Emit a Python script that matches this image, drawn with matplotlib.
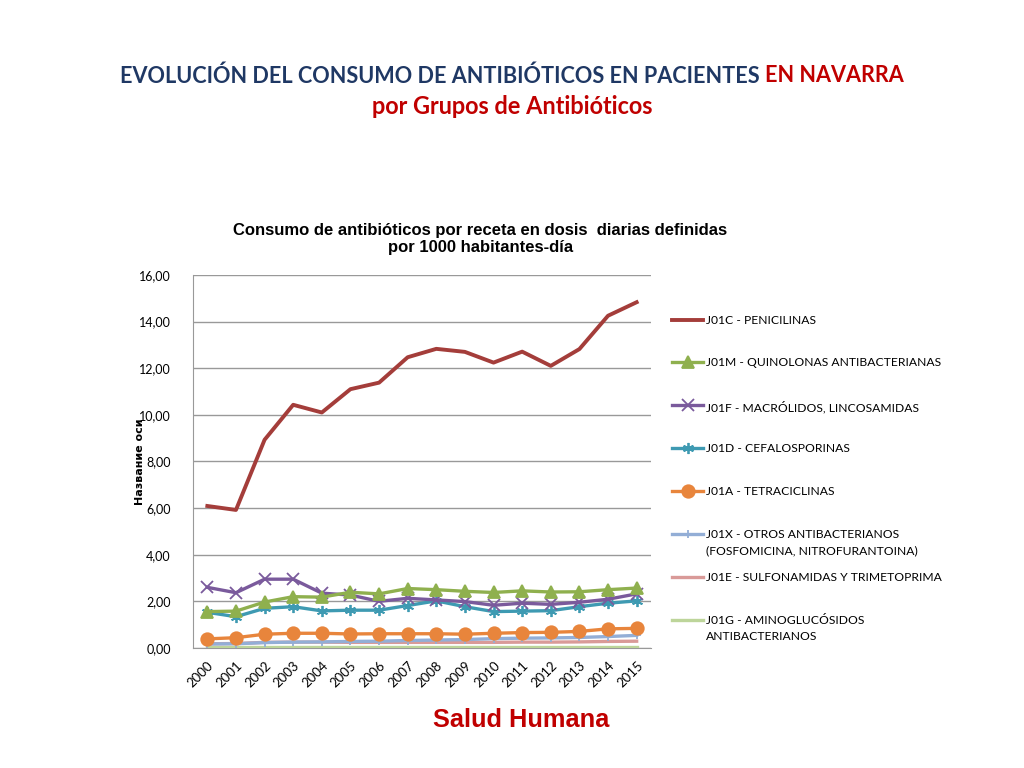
import matplotlib.pyplot as plt
from matplotlib.lines import Line2D

years = [str(y) for y in range(2000, 2016)]

penicilinas = [6.09, 5.92, 8.93, 10.43, 10.10, 11.10, 11.38, 12.47, 12.83, 12.70, 12.24, 12.71, 12.10, 12.82, 14.25, 14.83]
quinolonas = [1.56, 1.58, 1.97, 2.20, 2.18, 2.39, 2.32, 2.55, 2.50, 2.43, 2.38, 2.45, 2.40, 2.41, 2.50, 2.57]
macrolidos = [2.60, 2.37, 2.95, 2.95, 2.35, 2.27, 2.00, 2.13, 2.06, 1.99, 1.83, 1.92, 1.87, 1.96, 2.09, 2.32]
cefalosporinas = [1.53, 1.34, 1.70, 1.77, 1.59, 1.62, 1.62, 1.82, 2.02, 1.77, 1.56, 1.58, 1.60, 1.77, 1.92, 2.02]
tetraciclinas = [0.39, 0.44, 0.59, 0.63, 0.63, 0.60, 0.61, 0.61, 0.61, 0.59, 0.63, 0.66, 0.67, 0.71, 0.82, 0.84]
otros = [0.17, 0.18, 0.23, 0.25, 0.26, 0.28, 0.29, 0.32, 0.34, 0.36, 0.40, 0.42, 0.43, 0.45, 0.49, 0.54]
sulfonamidas = [0.18, 0.19, 0.24, 0.25, 0.25, 0.24, 0.24, 0.24, 0.24, 0.24, 0.24, 0.25, 0.25, 0.26, 0.28, 0.29]
aminoglucosidos = [0.03, 0.03, 0.03, 0.03, 0.03, 0.03, 0.03, 0.03, 0.03, 0.03, 0.03, 0.03, 0.03, 0.03, 0.03, 0.03]

labels = ['J01C - PENICILINAS',
          'J01M - QUINOLONAS ANTIBACTERIANAS',
          'J01F - MACRÓLIDOS, LINCOSAMIDAS',
          'J01D - CEFALOSPORINAS',
          'J01A - TETRACICLINAS',
          'J01X - OTROS ANTIBACTERIANOS\n(FOSFOMICINA, NITROFURANTOINA)',
          'J01E - SULFONAMIDAS Y TRIMETOPRIMA',
          'J01G - AMINOGLUCÓSIDOS\nANTIBACTERIANOS']

series = [penicilinas, quinolonas, macrolidos, cefalosporinas, tetraciclinas, otros, sulfonamidas, aminoglucosidos]
colors = ['#A43D3A', '#8FB04E', '#7A5A9C', '#3E9AB2', '#E8853C', '#93AED6', '#D99A98', '#BDD59A']
markers = [None, '^', 'x', (6, 2, 0), 'o', '+', None, None]
msizes = [0, 8, 8, 8, 9, 6, 0, 0]
lws = [2.8, 2.4, 2.4, 2.4, 2.4, 2.4, 2.4, 2.4]

font = 'Lato'

fig = plt.figure(figsize=(10.24, 7.68), dpi=100)
ax = fig.add_axes([0.1885, 0.1563, 0.4472, 0.4857])

x = list(range(len(years)))
# draw in reverse order so penicilinas sits on top
for i in range(len(series) - 1, -1, -1):
    ax.plot(x, series[i], color=colors[i], lw=lws[i], marker=markers[i], ms=msizes[i],
            mew=1.3, mec=colors[i], mfc=colors[i], zorder=3 + (len(series) - i) * 0.01)

ax.set_xlim(-0.5, 15.5)
ax.set_ylim(0, 16)
ax.set_yticks(range(0, 17, 2))
ax.set_yticklabels(['%d,00' % v for v in range(0, 17, 2)], fontsize=9, family=font)
ax.set_xticks(x)
ax.set_xticklabels(years, rotation=45, ha='right', rotation_mode='anchor', fontsize=9.5, family=font)
ax.tick_params(axis='y', length=0, pad=16)
ax.tick_params(axis='x', length=0, pad=8)
ax.grid(axis='y', color='#999999', lw=1)
ax.set_axisbelow(True)
for s in ['top', 'right']:
    ax.spines[s].set_visible(False)
ax.spines['left'].set_color('#999999')
ax.spines['bottom'].set_color('#999999')
ax.set_ylabel('Название оси', fontsize=8, fontweight='bold', family='DejaVu Sans', labelpad=-4.5)

# chart title
fig.text(0.469, 1 - 239 / 768, 'Consumo de antibióticos por receta en dosis  diarias definidas\npor 1000 habitantes-día',
         ha='center', va='center', fontsize=12, fontweight='bold', family='Liberation Sans',
         linespacing=1.2)

# legend, drawn by hand to follow the original spacing
leg_y = [320, 362, 405, 448, 491, 534, 577, 620]
for i, lab in enumerate(labels):
    yf = 1 - leg_y[i] / 768
    fig.add_artist(Line2D([672 / 1024, 703 / 1024], [yf, yf], color=colors[i], lw=lws[i]))
    if markers[i] is not None:
        fig.add_artist(Line2D([687.5 / 1024], [yf], color=colors[i], marker=markers[i],
                              ms=msizes[i], mew=1.3, mfc=colors[i], mec=colors[i]))
    fig.text(706 / 1024, yf + 0.006, lab, ha='left', va='top', fontsize=8.7, family=font,
             linespacing=1.5)

# slide titles, scaled so the first line spans the same width as the original
fs = 18
t1 = fig.text(0.117, 1 - 76 / 768, 'EVOLUCIÓN DEL CONSUMO DE ANTIBIÓTICOS EN PACIENTES ', ha='left', va='center',
              fontsize=fs, fontweight='bold', family=font, color='#1F3864')
t2 = fig.text(0.5, 1 - 76 / 768, 'EN NAVARRA', ha='left', va='center',
              fontsize=fs, fontweight='bold', family=font, color='#C00000')
fig.canvas.draw()
r = fig.canvas.get_renderer()
w = t1.get_window_extent(r).width + t2.get_window_extent(r).width
fs = fs * 786 / w
t1.set_fontsize(fs)
t2.set_fontsize(fs)
t1.set_x(120 / 1024)
fig.canvas.draw()
bb = t1.get_window_extent(r)
t2.set_x(bb.x1 / 1024)
t3 = fig.text(0.5, 1 - 106 / 768, 'por Grupos de Antibióticos', ha='center', va='center',
              fontsize=fs, fontweight='bold', family=font, color='#C00000')
fig.canvas.draw()
t3.set_fontsize(fs * 283 / t3.get_window_extent(r).width)

fig.text(521 / 1024, 1 - 720 / 768, 'Salud Humana', ha='center', va='center',
         fontsize=18.3, fontweight='bold', family='Liberation Sans', color='#C00000')

fig.savefig('out.png', dpi=100)
